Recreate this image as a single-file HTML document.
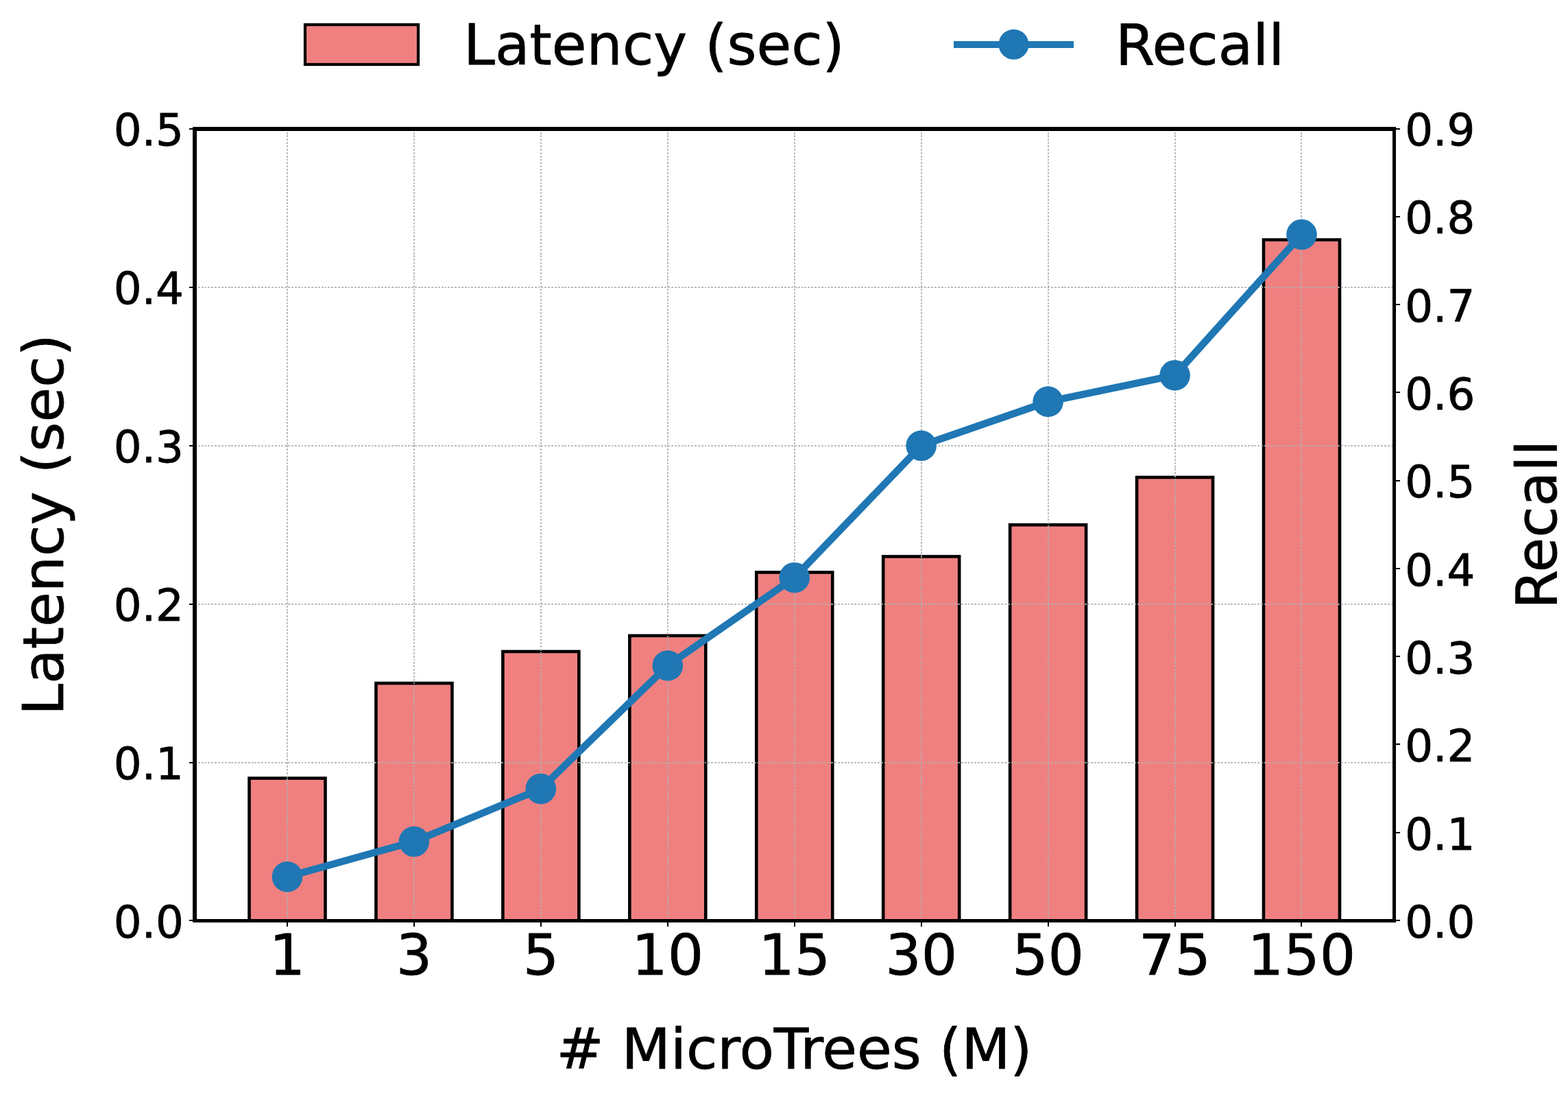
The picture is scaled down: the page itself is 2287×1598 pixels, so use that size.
<!DOCTYPE html>
<html lang="en"><head><meta charset="utf-8"><title>Latency and Recall vs # MicroTrees</title>
<style>html,body{margin:0;padding:0;background:#fff;}body{width:2287px;height:1598px;}svg{display:block;}text{font-family:"DejaVu Sans","Liberation Sans",sans-serif;fill:#000;stroke:#000;stroke-width:0.8px;stroke-linejoin:round;}.big{font-size:82.5px;}.tk{font-size:64.3px;}</style></head><body>
<svg width="2287" height="1598" viewBox="0 0 2287 1598" role="img" aria-label="Latency and Recall versus number of MicroTrees">
<rect x="0" y="0" width="2287" height="1598" fill="#ffffff"/>
<g fill="#f08080" stroke="#000" stroke-width="4.6" stroke-linejoin="miter">
<rect x="363.52" y="1134.69" width="110.96" height="207.81"/>
<rect x="548.46" y="996.15" width="110.96" height="346.35"/>
<rect x="733.4" y="949.97" width="110.96" height="392.53"/>
<rect x="918.33" y="926.88" width="110.96" height="415.62"/>
<rect x="1103.27" y="834.52" width="110.96" height="507.98"/>
<rect x="1288.21" y="811.43" width="110.96" height="531.07"/>
<rect x="1473.14" y="765.25" width="110.96" height="577.25"/>
<rect x="1658.08" y="695.98" width="110.96" height="646.52"/>
<rect x="1843.02" y="349.63" width="110.96" height="992.87"/>
</g>
<g stroke="#b0b0b0" stroke-opacity="0.85" stroke-width="2" stroke-dasharray="2.9 1.96" fill="none" shape-rendering="crispEdges">
<line x1="419" y1="1342.5" x2="419" y2="188"/>
<line x1="604" y1="1342.5" x2="604" y2="188"/>
<line x1="789" y1="1342.5" x2="789" y2="188"/>
<line x1="974" y1="1342.5" x2="974" y2="188"/>
<line x1="1159" y1="1342.5" x2="1159" y2="188"/>
<line x1="1344" y1="1342.5" x2="1344" y2="188"/>
<line x1="1529" y1="1342.5" x2="1529" y2="188"/>
<line x1="1714" y1="1342.5" x2="1714" y2="188"/>
<line x1="1898" y1="1342.5" x2="1898" y2="188"/>
<line x1="284" y1="1342" x2="2033.5" y2="1342"/>
<line x1="284" y1="1112" x2="2033.5" y2="1112"/>
<line x1="284" y1="881" x2="2033.5" y2="881"/>
<line x1="284" y1="650" x2="2033.5" y2="650"/>
<line x1="284" y1="419" x2="2033.5" y2="419"/>
<line x1="284" y1="188" x2="2033.5" y2="188"/>
</g>
<polyline points="419,1278.36 603.94,1227.05 788.88,1150.08 973.81,970.49 1158.75,842.22 1343.69,649.8 1528.62,585.66 1713.56,547.18 1898.5,341.93" fill="none" stroke="#1f77b4" stroke-width="10.5" stroke-linejoin="round" stroke-linecap="butt"/>
<g fill="#1f77b4">
<circle cx="419" cy="1278.36" r="22.3"/>
<circle cx="603.94" cy="1227.05" r="22.3"/>
<circle cx="788.88" cy="1150.08" r="22.3"/>
<circle cx="973.81" cy="970.49" r="22.3"/>
<circle cx="1158.75" cy="842.22" r="22.3"/>
<circle cx="1343.69" cy="649.8" r="22.3"/>
<circle cx="1528.62" cy="585.66" r="22.3"/>
<circle cx="1713.56" cy="547.18" r="22.3"/>
<circle cx="1898.5" cy="341.93" r="22.3"/>
</g>
<g fill="#000" shape-rendering="crispEdges">
<rect x="276" y="1341" width="6" height="2"/>
<rect x="276" y="1111" width="6" height="2"/>
<rect x="276" y="880" width="6" height="2"/>
<rect x="276" y="649" width="6" height="2"/>
<rect x="276" y="418" width="6" height="2"/>
<rect x="276" y="187" width="6" height="2"/>
<rect x="2035" y="1341" width="7" height="2"/>
<rect x="2035" y="1213" width="7" height="2"/>
<rect x="2035" y="1084" width="7" height="2"/>
<rect x="2035" y="956" width="7" height="2"/>
<rect x="2035" y="828" width="7" height="2"/>
<rect x="2035" y="700" width="7" height="2"/>
<rect x="2035" y="571" width="7" height="2"/>
<rect x="2035" y="443" width="7" height="2"/>
<rect x="2035" y="315" width="7" height="2"/>
<rect x="2035" y="187" width="7" height="2"/>
<rect x="418" y="1344" width="2" height="7"/>
<rect x="603" y="1344" width="2" height="7"/>
<rect x="788" y="1344" width="2" height="7"/>
<rect x="973" y="1344" width="2" height="7"/>
<rect x="1158" y="1344" width="2" height="7"/>
<rect x="1343" y="1344" width="2" height="7"/>
<rect x="1528" y="1344" width="2" height="7"/>
<rect x="1713" y="1344" width="2" height="7"/>
<rect x="1897" y="1344" width="2" height="7"/>
<rect x="281" y="185" width="6" height="1160"/>
<rect x="2031" y="185" width="5" height="1160"/>
<rect x="281" y="185" width="1755" height="6"/>
<rect x="281" y="1340" width="1755" height="5"/>
</g>
<g class="tk" text-anchor="end">
<text x="268" y="1367">0.0</text>
<text x="268" y="1136">0.1</text>
<text x="268" y="905">0.2</text>
<text x="268" y="674">0.3</text>
<text x="268" y="443">0.4</text>
<text x="268" y="212">0.5</text>
</g>
<g class="tk" text-anchor="start">
<text x="2049.2" y="1367">0.0</text>
<text x="2049.2" y="1239">0.1</text>
<text x="2049.2" y="1110">0.2</text>
<text x="2049.2" y="982">0.3</text>
<text x="2049.2" y="854">0.4</text>
<text x="2049.2" y="725">0.5</text>
<text x="2049.2" y="597">0.6</text>
<text x="2049.2" y="469">0.7</text>
<text x="2049.2" y="340">0.8</text>
<text x="2049.2" y="212">0.9</text>
</g>
<g class="big" text-anchor="middle">
<text x="419" y="1421">1</text>
<text x="603.94" y="1421">3</text>
<text x="788.88" y="1421">5</text>
<text x="973.81" y="1421">10</text>
<text x="1158.75" y="1421">15</text>
<text x="1343.69" y="1421">30</text>
<text x="1528.62" y="1421">50</text>
<text x="1713.56" y="1421">75</text>
<text x="1898.5" y="1421">150</text>
</g>
<text class="big" text-anchor="middle" x="1158.5" y="1558"># MicroTrees (M)</text>
<text class="big" text-anchor="middle" transform="translate(91.8 765) rotate(-90)">Latency (sec)</text>
<text class="big" text-anchor="middle" transform="translate(2270 765) rotate(-90)">Recall</text>
<rect x="445" y="36" width="165" height="58" fill="#f08080" stroke="#000" stroke-width="4.2"/>
<text class="big" x="676" y="94">Latency (sec)</text>
<line x1="1391" y1="65" x2="1566" y2="65" stroke="#1f77b4" stroke-width="10"/>
<circle cx="1478.5" cy="64.8" r="22" fill="#1f77b4"/>
<text class="big" x="1627" y="94">Recall</text>
</svg></body></html>
